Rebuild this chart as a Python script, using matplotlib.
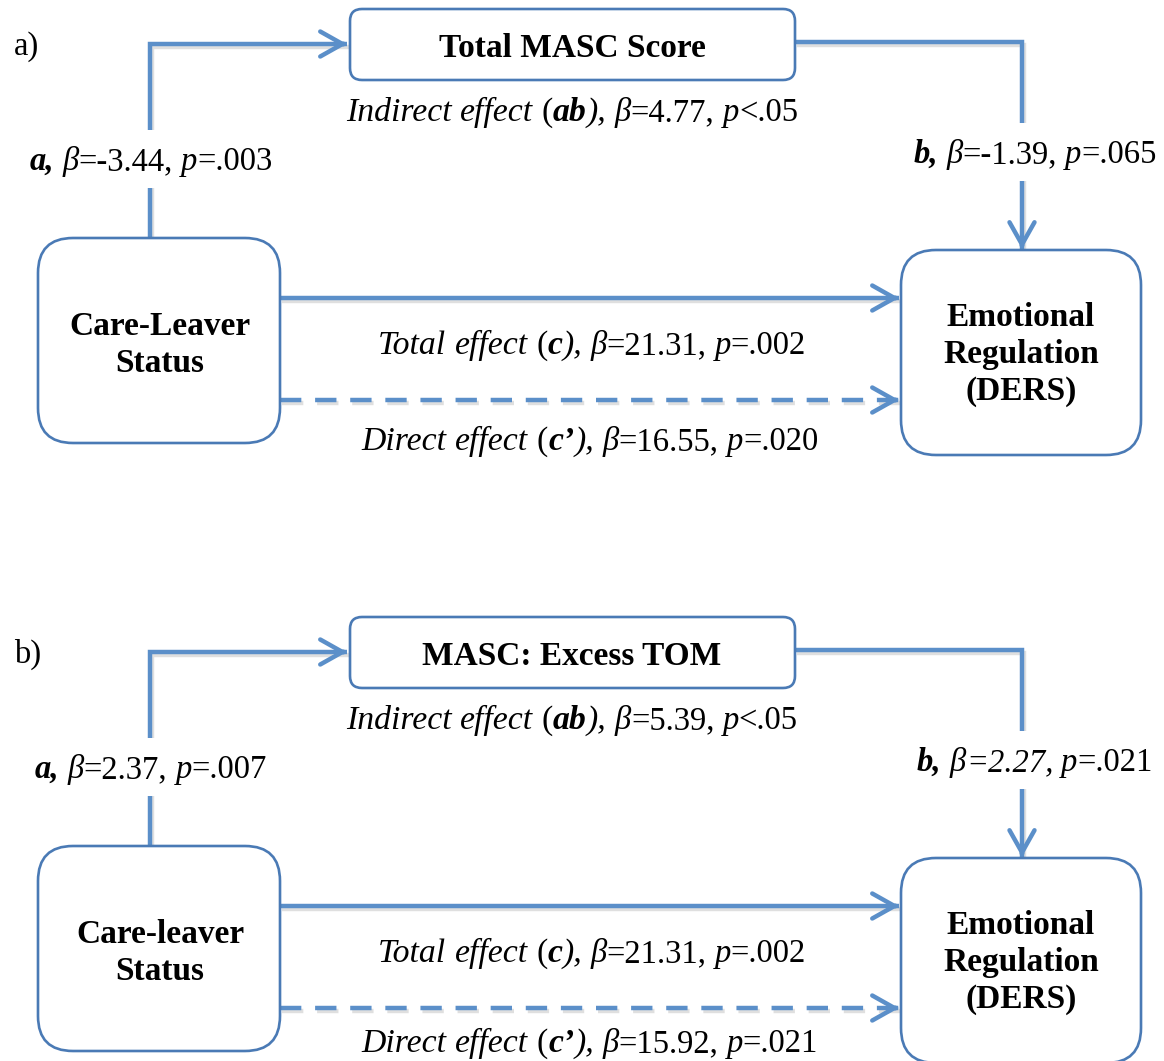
import matplotlib
matplotlib.use('Agg')
import matplotlib.pyplot as plt
from matplotlib.patches import FancyBboxPatch, Rectangle
import matplotlib.patheffects as pe

# values
panel_tags = ['a)', 'b)']
mediators = ['Total MASC Score', 'MASC: Excess TOM']
predictors = [['Care-Leaver', 'Status'], ['Care-leaver', 'Status']]
outcome = ['Emotional', 'Regulation', '(DERS)']
a_beta = ['-3.44', '2.37']
a_p = ['.003', '.007']
b_beta = ['-1.39', '2.27']
b_p = ['.065', '.021']
ab_beta = ['4.77', '5.39']
ab_p = ['<.05', '<.05']
c_beta = ['21.31', '21.31']
c_p = ['.002', '.002']
cp_beta = ['16.55', '15.92']
cp_p = ['.020', '.021']

W, H = 1164, 1061
ARROW = '#5b8fc9'
EDGE = '#4a7ab5'
FONT = 'Liberation Serif'
FS = 23.5      # Times-like parts
FW = 24.3      # italic words ("Indirect effect" etc.)
FB = 24        # bold box labels

st = {
    'rm': dict(family=FONT, size=FS),
    'it': dict(family=FONT, size=FS, style='italic'),
    'bi': dict(family=FONT, size=FS, style='italic', weight='bold'),
    'wrm': dict(family=FONT, size=FW),
    'wit': dict(family=FONT, size=FW, style='italic'),
    'wbi': dict(family=FONT, size=FW, style='italic', weight='bold'),
    'bf': dict(family=FONT, size=FB, weight='bold'),
}

fig = plt.figure(figsize=(W / 100, H / 100), dpi=100)
ax = fig.add_axes([0, 0, 1, 1])
ax.set_xlim(0, W)
ax.set_ylim(H, 0)
ax.axis('off')
renderer = fig.canvas.get_renderer()

shadow = [pe.SimpleLineShadow(offset=(1.5, -2), shadow_color='gray', alpha=0.25), pe.Normal()]


def rich(x, y, pieces, bg=False):
    # lay out mixed-style pieces centred on x, baseline at y
    items = []
    for s, k in pieces:
        if s == ' ':
            items.append((None, st[k]['size'] * 100 / 72 * 0.25))
            continue
        t = ax.text(0, y, s, ha='left', va='baseline', zorder=5, **st[k])
        items.append((t, t.get_window_extent(renderer).width))
    total = sum(w for _, w in items)
    cur = x - total / 2
    for t, w in items:
        if t is not None:
            t.set_x(cur)
        cur += w
    if bg:
        ax.add_patch(Rectangle((x - total / 2 - 4, y - 40), total + 8, 58,
                               facecolor='white', edgecolor='none', zorder=4))


def arrow(xs, ys, dashed=False):
    kw = dict(color=ARROW, lw=3.2, solid_capstyle='butt', solid_joinstyle='miter', zorder=2,
              path_effects=shadow)
    if dashed:
        ax.plot(xs, ys, dashes=(4.8, 3.1), dash_capstyle='butt', **kw)
    else:
        ax.plot(xs, ys, **kw)
    dx = xs[-1] - xs[-2]
    dy = ys[-1] - ys[-2]
    n = (dx ** 2 + dy ** 2) ** 0.5
    ax.annotate('', xy=(xs[-1], ys[-1]), xytext=(xs[-1] - 4 * dx / n, ys[-1] - 4 * dy / n),
                arrowprops=dict(arrowstyle='->,head_length=0.8,head_width=0.45', color=ARROW,
                                lw=3.2, shrinkA=0, shrinkB=0, mutation_scale=20),
                zorder=3)


def box(x0, y0, x1, y1, r):
    ax.add_patch(FancyBboxPatch((x0, y0), x1 - x0, y1 - y0,
                                boxstyle='round,pad=0,rounding_size=%d' % r,
                                facecolor='white', edgecolor=EDGE, lw=1.9, zorder=3))


for i, off in enumerate([0, 608]):
    ax.text(14, 55 + off, panel_tags[i], ha='left', va='baseline', **st['rm'])

    # boxes
    box(350, 9 + off, 795, 80 + off, 12)
    box(38, 238 + off, 280, 443 + off, 35)
    box(901, 250 + off, 1141, 455 + off, 35)
    rich(572, 57 + off, [(mediators[i], 'bf')])
    for j, line in enumerate(predictors[i]):
        rich(160, 335 + 37 * j + off, [(line, 'bf')])
    for j, line in enumerate(outcome):
        rich(1021, 326 + 37 * j + off, [(line, 'bf')])

    # paths
    arrow([150, 150, 347], [238 + off, 44 + off, 44 + off])
    arrow([795, 1022, 1022], [42 + off, 42 + off, 249 + off])
    arrow([280, 899], [298 + off, 298 + off])
    arrow([280, 899], [400 + off, 400 + off], dashed=True)

    # path labels
    rich(151, 170 + off, [('a,', 'bi'), (' ', 'rm'), ('β', 'it'), ('=' + a_beta[i] + ',', 'rm'),
                          (' ', 'rm'), ('p', 'it'), ('=' + a_p[i], 'rm')], bg=True)
    bst = 'it' if i == 1 else 'rm'
    rich(1035, 163 + off, [('b,', 'bi'), (' ', 'rm'), ('β', 'it'), ('=' + b_beta[i] + ',', bst),
                           (' ', 'rm'), ('p', 'it'), ('=' + b_p[i], 'rm')], bg=True)
    rich(572, 121 + off, [('Indirect', 'wit'), (' ', 'wrm'), ('effect', 'wit'), (' ', 'wrm'),
                          ('(', 'wrm'), ('ab', 'wbi'), ('),', 'wit'), (' ', 'rm'),
                          ('β', 'it'), ('=' + ab_beta[i] + ',', 'rm'), (' ', 'rm'),
                          ('p', 'it'), (ab_p[i], 'rm')])
    rich(592, 354 + off, [('Total', 'wit'), (' ', 'wrm'), ('effect', 'wit'), (' ', 'wrm'),
                          ('(', 'wrm'), ('c', 'wbi'), ('),', 'wit'), (' ', 'rm'),
                          ('β', 'it'), ('=' + c_beta[i] + ',', 'rm'), (' ', 'rm'),
                          ('p', 'it'), ('=' + c_p[i], 'rm')])
    rich(590, 450 + off - 6 * i, [('Direct', 'wit'), (' ', 'wrm'), ('effect', 'wit'), (' ', 'wrm'),
                                  ('(', 'wrm'), ('c\u2019', 'wbi'), ('),', 'wit'), (' ', 'rm'),
                                  ('β', 'it'), ('=' + cp_beta[i] + ',', 'rm'), (' ', 'rm'),
                                  ('p', 'it'), ('=' + cp_p[i], 'rm')])

fig.savefig('out.png', dpi=100)
